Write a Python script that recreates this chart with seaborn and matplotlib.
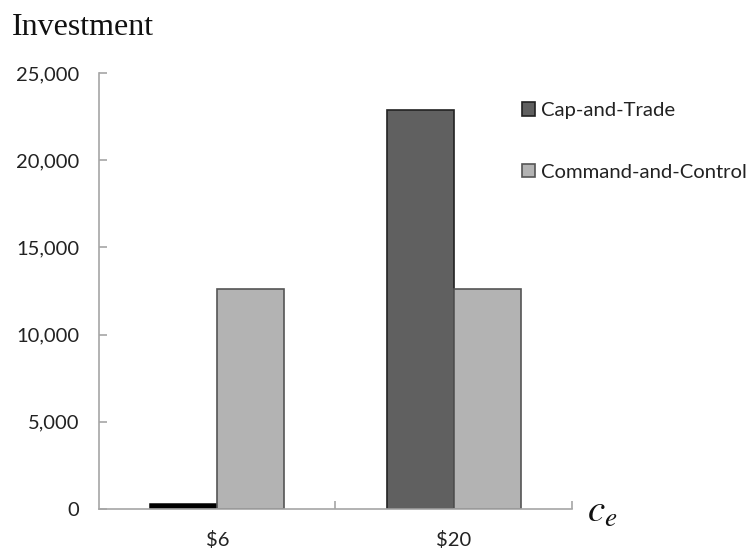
import matplotlib
matplotlib.use("Agg")
import matplotlib.pyplot as plt
import seaborn as sns
import pandas as pd
from matplotlib.ticker import FuncFormatter, FixedLocator

# Investment under two policy regimes for two emission-cost levels
categories = ["$6", "$20"]
series = ["Cap-and-Trade", "Command-and-Control"]
cap_and_trade = [300, 22870]
command_and_control = [12600, 12600]
y_ticks = [0, 5000, 10000, 15000, 20000, 25000]

df = pd.DataFrame({
    "cost": categories * 2,
    "policy": [series[0]] * len(categories) + [series[1]] * len(categories),
    "investment": cap_and_trade + command_and_control,
})

sns.set_style("white")
plt.rcParams["font.family"] = ["Lato", "DejaVu Sans"]
plt.rcParams["mathtext.fontset"] = "stix"

fig = plt.figure(figsize=(7.53, 5.54), dpi=100)
ax = fig.add_axes([0.1315, 0.0812, 0.6281, 0.787])

palette = {series[0]: "#606060", series[1]: "#b3b3b3"}
sns.barplot(data=df, x="cost", y="investment", hue="policy", palette=palette,
            width=0.566, ax=ax, saturation=1, legend=True)

edge_colors = {series[0]: "#222222", series[1]: "#555555"}
for container, name in zip(ax.containers, series):
    for patch in container:
        patch.set_edgecolor(edge_colors[name])
        patch.set_linewidth(1.2)
# The nearly empty bar reads as a thick dark stroke
ax.containers[0][0].set_facecolor("#000000")
ax.containers[0][0].set_edgecolor("#000000")
ax.containers[0][0].set_linewidth(1.8)

ax.set_xlim(-0.5, 1.5)
ax.set_ylim(0, 25000)
ax.set_yticks(y_ticks)
ax.yaxis.set_major_formatter(FuncFormatter(lambda v, p: f"{int(v):,}"))
ax.set_xlabel("")
ax.set_ylabel("")

for side in ["top", "right"]:
    ax.spines[side].set_visible(False)
for side in ["left", "bottom"]:
    ax.spines[side].set_color("#a6a6a6")
    ax.spines[side].set_linewidth(1.2)

ax.tick_params(axis="y", direction="in", length=6, width=1.2, color="#a6a6a6",
               labelsize=14.5, labelcolor="#222222", pad=14, left=True)
ax.tick_params(axis="x", which="major", length=0, labelsize=14.5,
               labelcolor="#222222", pad=16, bottom=True)
ax.xaxis.set_minor_locator(FixedLocator([0.5, 1.5]))
ax.tick_params(axis="x", which="minor", direction="in", length=6, width=1.2,
               color="#a6a6a6", bottom=True)

leg = ax.legend(loc="upper left", bbox_to_anchor=(0.693, 0.816),
                bbox_transform=fig.transFigure, frameon=False,
                handlelength=0.66, handleheight=0.66, handletextpad=0.3,
                labelspacing=2.2, fontsize=14.6, borderaxespad=0,
                borderpad=0)
for h, name in zip(leg.legend_handles, series):
    h.set_linewidth(1.2)
    h.set_edgecolor(edge_colors[name])
for t in leg.get_texts():
    t.set_color("#222222")

fig.text(0.016, 0.937, "Investment", family=["Liberation Serif"],
         fontsize=23, color="#111111", va="baseline")
fig.text(0.779, 0.058, "$c_e$", fontsize=28, color="#111111", va="baseline")

fig.savefig("out.png", dpi=100, facecolor="white")
